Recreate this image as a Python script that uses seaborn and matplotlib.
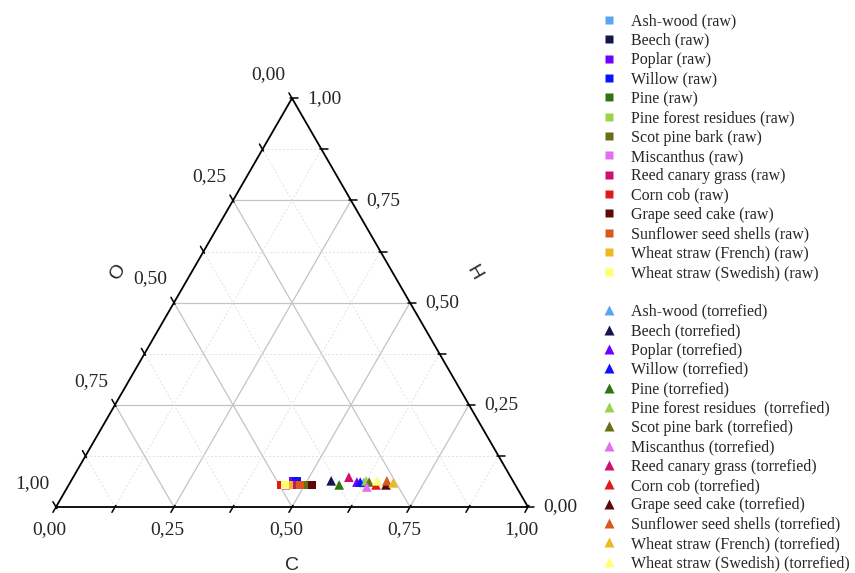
import numpy as np
import pandas as pd
import matplotlib
matplotlib.use("Agg")
import matplotlib.pyplot as plt
from matplotlib.lines import Line2D
import seaborn as sns

# Feedstocks and their colours
feedstocks = [
    "Ash-wood", "Beech", "Poplar", "Willow", "Pine", "Pine forest residues",
    "Scot pine bark", "Miscanthus", "Reed canary grass", "Corn cob",
    "Grape seed cake", "Sunflower seed shells", "Wheat straw (French)",
    "Wheat straw (Swedish)",
]
colors = [
    "#5aa5f0", "#14144f", "#7000ff", "#1010ff", "#2e7412", "#98d44a",
    "#6b6f14", "#e070f0", "#d01070", "#e01a1a", "#5a0a0a", "#d65a1c",
    "#eeb820", "#ffff70",
]

# Mass fractions (C, H) of the raw feedstocks; O = 1 - C - H
raw_C = [0.473, 0.479, 0.470, 0.478, 0.488, 0.492, 0.500, 0.462, 0.477,
         0.450, 0.515, 0.490, 0.467, 0.458]
raw_H = [0.054, 0.054, 0.063, 0.063, 0.054, 0.054, 0.054, 0.051, 0.054,
         0.054, 0.054, 0.054, 0.054, 0.054]

# Mass fractions (C, H) after torrefaction
torr_C = [0.622, 0.551, 0.607, 0.614, 0.573, 0.625, 0.633, 0.634, 0.584,
          0.651, 0.672, 0.669, 0.685, 0.648]
torr_H = [0.060, 0.064, 0.061, 0.061, 0.054, 0.064, 0.061, 0.049, 0.073,
          0.054, 0.054, 0.064, 0.059, 0.064]

tick_values = [0.0, 0.25, 0.5, 0.75, 1.0]
tick_labels = ["0,00", "0,25", "0,50", "0,75", "1,00"]
axis_names = ["C", "H", "O"]

S3 = np.sqrt(3) / 2


def to_xy(c, h):
    """Ternary (C, H) -> cartesian; O vertex bottom-left, C bottom-right, H top."""
    c = np.asarray(c, dtype=float)
    h = np.asarray(h, dtype=float)
    return c + h / 2, h * S3


sns.set_theme(style="white")
plt.rcParams["font.family"] = ["Liberation Serif", "DejaVu Serif"]

fig = plt.figure(figsize=(8.55, 5.73), dpi=100)
ax = fig.add_axes([0, 0, 1, 1])
scale = 472.0
ax.set_xlim(-56 / scale, (855 - 56) / scale)
ax.set_ylim(-(573 - 507) / scale, 507 / scale)
ax.axis("off")

# grid: solid at quarters, dotted at eighths
for k in np.arange(0.125, 1.0, 0.125):
    major = abs(k * 4 - round(k * 4)) < 1e-9
    if major:
        st = dict(color="#c4c4c4", lw=0.9, ls="-", zorder=1)
    else:
        st = dict(color="#e2e2e2", lw=0.7, ls=(0, (2, 2)), zorder=1)
    ax.plot(*to_xy([k, k], [0, 1 - k]), **st)          # constant C
    ax.plot(*to_xy([0, 1 - k], [k, k]), **st)          # constant H
    ax.plot(*to_xy([1 - k, 0], [0, 1 - k]), **st)      # constant O

# triangle frame
ax.plot(*to_xy([0, 1, 0, 0], [0, 0, 1, 0]), color="black", lw=1.3, zorder=2,
        solid_joinstyle="miter")

# ticks
tk_out, tk_in = 0.013, 0.004
for v in np.arange(0, 1.0001, 0.125):
    # bottom (C)
    x0, y0 = to_xy(v, 0)
    d = np.array([-0.5, -S3])
    ax.plot([x0 - tk_in * d[0], x0 + tk_out * d[0]],
            [y0 - tk_in * d[1], y0 + tk_out * d[1]], color="black", lw=1.1, zorder=2)
    # right (H)
    x0, y0 = to_xy(1 - v, v)
    ax.plot([x0 - tk_in, x0 + tk_out], [y0, y0], color="black", lw=1.1, zorder=2)
    # left (O)
    x0, y0 = to_xy(0, 1 - v)
    d = np.array([-0.5, S3])
    ax.plot([x0 - tk_in * d[0], x0 + tk_out * d[0]],
            [y0 - tk_in * d[1], y0 + tk_out * d[1]], color="black", lw=1.1, zorder=2)

tick_fs = 14
for v, lab in zip(tick_values, tick_labels):
    ax.annotate(lab, to_xy(v, 0), xytext=(-4.5, -16), textcoords="offset points",
                ha="center", va="center", fontsize=tick_fs)
    ax.annotate(lab, to_xy(1 - v, v), xytext=(11, 0), textcoords="offset points",
                ha="left", va="center", fontsize=tick_fs)
    ax.annotate(lab, to_xy(0, 1 - v), xytext=(-17, 17), textcoords="offset points",
                ha="center", va="center", fontsize=tick_fs)

lab_font = dict(family=["Liberation Sans", "DejaVu Sans"], fontsize=14)
ax.text(0.5, -0.123, axis_names[0], ha="center", va="center", **lab_font)
ax.text(0.885, 0.497, axis_names[1], ha="center", va="center", rotation=-60, **lab_font)
ax.text(0.131, 0.497, axis_names[2], ha="center", va="center", rotation=60, **lab_font)

# data
palette = dict(zip(feedstocks, colors))
raw = pd.DataFrame({"feedstock": feedstocks, "C": raw_C, "H": raw_H})
torr = pd.DataFrame({"feedstock": feedstocks, "C": torr_C, "H": torr_H})
for df in (raw, torr):
    df["x"], df["y"] = to_xy(df["C"], df["H"])

sns.scatterplot(data=raw, x="x", y="y", hue="feedstock", palette=palette,
                marker="s", s=34, linewidth=0, legend=False, ax=ax, zorder=3)
sns.scatterplot(data=torr, x="x", y="y", hue="feedstock", palette=palette,
                marker="^", s=48, linewidth=0, legend=False, ax=ax, zorder=3)

# legend: raw squares, a gap, torrefied triangles
handles, labels = [], []
for name, col in zip(feedstocks, colors):
    handles.append(Line2D([], [], ls="none", marker="s", ms=5.5, mfc=col, mec="none"))
    labels.append(f"{name} (raw)")
handles.append(Line2D([], [], ls="none"))
labels.append(" ")
for name, col in zip(feedstocks, colors):
    handles.append(Line2D([], [], ls="none", marker="^", ms=6.5, mfc=col, mec="none"))
    lab = f"{name}  (torrefied)" if name == "Pine forest residues" else f"{name} (torrefied)"
    labels.append(lab)

fig.legend(handles, labels, loc="upper left", bbox_to_anchor=(601 / 855, 1 - 13.5 / 573),
           frameon=False, fontsize=11.5, handlelength=1.0, handletextpad=0.875,
           labelspacing=0.21, borderpad=0, borderaxespad=0)

fig.savefig("out.png", dpi=100)
